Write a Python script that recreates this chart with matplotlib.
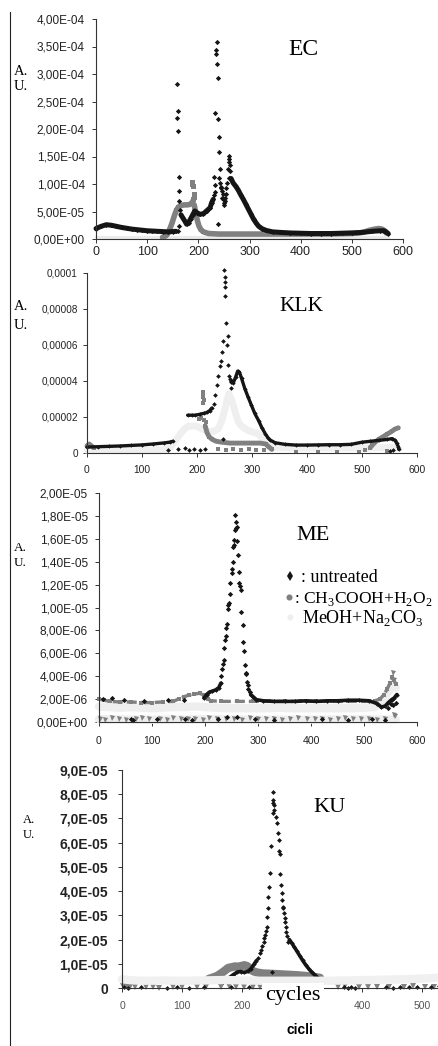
import matplotlib
matplotlib.use('Agg')
import matplotlib.pyplot as plt
from matplotlib.lines import Line2D

plt.rcParams['font.family'] = ['Liberation Sans', 'DejaVu Sans']
plt.rcParams['mathtext.fontset'] = 'custom'
plt.rcParams['mathtext.rm'] = 'Liberation Serif'

W, H = 438, 1046
UNIT = 1e-6          # all values below are read in units of 1E-06 A.U.
BLACK = '#151515'
GRAY = '#808080'
LIGHT = '#ebebeb'
SERIF = 'Liberation Serif'

x_ticks = [0, 100, 200, 300, 400, 500, 600]
x_labels = ['0', '100', '200', '300', '400', '500', '600']
# the KU axis: "300" is hidden under the "cycles" caption, "600" falls off the page
ku_xlabels = ['0', '100', '200', '', '400', '500', '']

# ---------------- EC ----------------
ec_yticks = [0, 5e-5, 1e-4, 1.5e-4, 2e-4, 2.5e-4, 3e-4, 3.5e-4, 4e-4]
ec_ylabels = ['0,00E+00', '5,00E-05', '1,00E-04', '1,50E-04', '2,00E-04',
              '2,50E-04', '3,00E-04', '3,50E-04', '4,00E-04']
ec_untreated_bands = [
    [(0, 19), (10, 23), (20, 26), (30, 25), (40, 23), (50, 21), (60, 19.5), (70, 18),
     (80, 17), (90, 16), (100, 15), (110, 14.5), (120, 14), (130, 13.5), (140, 13),
     (150, 13.5), (156, 14)],
    [(166, 44), (170, 38), (174, 32), (177, 27), (181, 30), (185, 37), (189, 44), (193, 51),
     (197, 48), (203, 45), (210, 46), (216, 51), (223, 57), (226, 66), (229, 72)],
    [(264, 110), (268, 102), (273, 96), (278, 89), (283, 80), (288, 72), (293, 63), (298, 54),
     (303, 45), (308, 36), (313, 29), (318, 23), (325, 18.5), (333, 15.5), (345, 13),
     (360, 12), (380, 11), (400, 10.5), (420, 10), (440, 10), (460, 10), (480, 10.5),
     (500, 11), (520, 12), (540, 14), (555, 15), (563, 15), (567, 13), (571, 10)],
]
ec_untreated_dots = [
    (159, 282), (160, 233), (159, 220), (160, 196), (162, 112), (162, 88), (163, 70),
    (164, 52), (161, 15), (163, 24),
    (236, 358), (235, 344), (234, 336), (236, 319), (238, 293), (233, 229), (238, 219),
    (240, 186), (240, 158), (242, 127), (231, 113), (232, 98), (232, 86), (230, 80), (238, 27),
    (241, 111), (242, 102), (244, 93), (246, 88), (248, 81), (249, 72), (251, 66), (252, 75),
    (254, 82), (255, 93), (257, 102), (259, 111), (261, 123), (262, 135), (260, 145),
    (259, 151), (260, 140), (258, 128), (245, 95), (247, 75), (250, 62), (253, 70),
]
ec_acid_bands = [
    [(130, 3), (137, 6), (141, 11), (145, 20), (149, 30), (153, 42), (157, 52), (161, 58),
     (166, 61), (172, 62), (178, 62), (184, 63), (188, 66), (190, 70)],
    [(192, 62), (194, 52), (196, 42), (198, 34), (201, 24), (205, 17), (210, 13), (220, 10),
     (240, 9), (270, 9), (300, 9), (350, 9), (400, 9), (450, 9), (500, 10), (515, 11),
     (525, 13), (535, 16), (545, 18), (553, 19), (559, 18), (564, 15), (567, 11)],
]
ec_acid_dots = [(188, 104), (188, 100), (189, 96), (191, 82), (191, 76), (190, 72)]
ec_meoh_bands = [
    [(0, 3), (60, 2.5), (120, 2.5), (180, 3), (240, 2.5), (300, 2.5), (360, 2.5), (420, 2.5),
     (480, 2.5), (540, 3), (570, 2.5)],
]

# ---------------- KLK ----------------
klk_yticks = [0, 2e-5, 4e-5, 6e-5, 8e-5, 1e-4]
klk_ylabels = ['0', '0,00002', '0,00004', '0,00006', '0,00008', '0,0001']
klk_untreated_bands = [
    [(0, 3.3), (20, 3.5), (40, 3.7), (60, 3.9), (80, 4.2), (100, 4.5), (120, 5), (140, 5.6),
     (150, 6), (156, 6.5)],
    [(183, 21), (190, 21), (197, 21), (205, 21.5), (212, 22), (218, 22.5), (223, 23.5), (227, 25)],
    [(262, 40), (266, 39), (270, 42), (274, 45.5), (277, 45), (281, 41.5), (287, 35.7),
     (293, 31), (299, 26.5), (305, 22), (312, 18), (318, 14), (324, 10.8), (329, 8.5),
     (333, 7.2), (342, 5.7), (360, 4.8), (380, 4.4), (400, 4.4), (420, 4.5), (440, 4.6),
     (460, 4.6), (480, 4.8), (500, 6), (515, 6.5), (530, 7), (545, 7.5), (555, 8), (560, 7),
     (563, 5.5), (566, 3.5), (567, 2)],
]
klk_untreated_dots = [
    (230, 27), (233, 32), (236, 37.5), (239, 43), (242, 48.5), (244, 51), (246, 56), (247, 62),
    (249, 101.5), (250, 98), (250, 95), (251, 92), (251, 87), (253, 72), (256, 65), (255, 60),
    (256, 49), (258, 43), (260, 41), (262, 39.5), (261, 36), (248, 7.5),
    (148, 1.5), (165, 2), (178, 2.5), (186, 1.5), (195, 2), (205, 1.5), (214, 2.2),
    (550, 1), (556, 1.5),
]
klk_acid_bands = [
    [(0, 4), (4, 5), (8, 4), (12, 3)],
    [(215, 15), (218, 11.5), (222, 9), (228, 7.5), (235, 6.5), (245, 6), (260, 5.5), (280, 5.5),
     (300, 5.5), (315, 5.5), (325, 5), (330, 3.5), (336, 2)],
    [(515, 3), (522, 5.5), (530, 7.5), (538, 9), (546, 10.5), (554, 12), (560, 13.3), (566, 14)],
]
klk_acid_dots = [
    (210, 34), (210, 32.5), (211, 31), (212, 29.5), (211, 28), (204, 19), (208, 19.5),
    (212, 18.5), (216, 17), (238, 2), (252, 1.5), (266, 2), (280, 1.5), (294, 2), (308, 1.5),
    (322, 1.8), (380, 0.5), (420, 0.5), (455, 0.8), (495, 0.5), (505, 1.5), (545, 1),
]
klk_meoh_bands = [
    [(0, 1.5), (50, 1.5), (100, 1.5), (140, 1.8), (150, 2.5), (155, 4.4), (160, 6.5), (166, 9),
     (172, 11.5), (178, 13.6), (184, 14.8), (190, 15), (196, 15), (202, 14.5), (208, 13.5),
     (215, 12.7), (221, 12), (227, 11.8), (233, 12.5), (239, 13.6), (245, 18), (251, 24.6),
     (255, 30), (258, 33), (262, 30), (266, 26.5), (270, 22), (275, 17.3), (281, 15),
     (287, 13.6), (293, 12.5), (299, 11.8), (305, 11.2), (311, 10.8), (318, 8.5), (324, 6.2),
     (330, 4.5), (336, 3.5), (350, 3), (400, 2.8), (450, 2.8), (500, 2.8), (540, 3), (560, 3),
     (566, 2.5)],
]

# ---------------- ME ----------------
me_yticks = [0, 2e-6, 4e-6, 6e-6, 8e-6, 1e-5, 1.2e-5, 1.4e-5, 1.6e-5, 1.8e-5, 2e-5]
me_ylabels = ['0,00E+00', '2,00E-06', '4,00E-06', '6,00E-06', '8,00E-06', '1,00E-05',
              '1,20E-05', '1,40E-05', '1,60E-05', '1,80E-05', '2,00E-05']
me_untreated_bands = [
    [(198, 2.1), (203, 2.4), (208, 2.6), (214, 2.7), (220, 2.8), (226, 3.0), (230, 3.4)],
    [(286, 2.4), (291, 2.2), (297, 1.95), (310, 1.85), (330, 1.8), (350, 1.8), (370, 1.8),
     (390, 1.85), (410, 1.8), (430, 1.85), (450, 1.85), (470, 1.9), (490, 1.9), (510, 1.85),
     (525, 1.6), (533, 1.3), (540, 1.4), (546, 1.7), (552, 1.95), (557, 2.1), (562, 2.4)],
]
me_untreated_dots = [
    (7, 2.0), (25, 2.1), (48, 1.9), (85, 1.8), (130, 1.9), (160, 1.95),
    (231, 4.0), (233, 4.6), (234, 5.1), (235, 5.4), (236, 6.5), (238, 7.2), (239, 7.5),
    (240, 8.2), (241, 8.6), (243, 9.9), (244, 10.2), (245, 10.4), (247, 11.2), (248, 12.1),
    (250, 13.0), (251, 13.4), (252, 14.0), (253, 15.3), (254, 15.5), (255, 15.9), (256, 16.8),
    (257, 18.1), (258, 16.9), (259, 17.5), (260, 17.0), (261, 15.8), (262, 14.6), (264, 13.1),
    (265, 12.1), (266, 11.9), (267, 11.5), (268, 9.6), (271, 8.5), (272, 7.0), (274, 6.2),
    (275, 5.0), (277, 4.3), (278, 4.2), (279, 3.5), (281, 3.2), (282, 2.9), (284, 2.6),
    (545, 1.2), (550, 1.6), (555, 1.5), (560, 1.7),
    (60, 0.3), (64, 0.2), (110, 0.3), (162, 0.3), (175, 0.2), (224, 0.3), (241, 0.4),
    (260, 0.4), (294, 0.3), (330, 0.2), (420, 0.3), (470, 0.2), (515, 0.3), (540, 0.2),
]
me_acid_bands = [
    [(0, 2.0), (10, 1.9), (20, 1.8), (40, 1.75), (60, 1.75), (80, 1.7), (100, 1.7), (120, 1.75),
     (140, 1.8), (150, 2.0), (160, 2.2), (170, 2.35), (180, 2.45), (190, 2.5), (198, 2.35),
     (205, 2.0), (212, 1.85), (230, 1.8), (260, 1.8), (290, 1.8), (320, 1.8), (350, 1.8),
     (380, 1.8), (410, 1.8), (440, 1.8), (470, 1.8), (500, 1.8), (520, 1.85), (530, 2.0),
     (538, 2.4), (544, 2.9), (549, 3.4), (553, 3.9), (556, 3.7), (560, 3.3)],
]
me_acid_dots = [
    (555, 4.3), (557, 3.7), (556, 0.6), (559, 0.55),
    (2, 0.3), (12, 0.2), (25, 0.35), (38, 0.3), (50, 0.2), (70, 0.3), (82, 0.35), (95, 0.25),
    (115, 0.3), (128, 0.2), (140, 0.35), (155, 0.3), (168, 0.25), (182, 0.3), (196, 0.2),
    (208, 0.35), (222, 0.3), (240, 0.25), (255, 0.3), (270, 0.2), (285, 0.35), (300, 0.3),
    (315, 0.25), (330, 0.3), (345, 0.2), (360, 0.3), (375, 0.35), (392, 0.3), (408, 0.25),
    (420, 0.3), (435, 0.2), (450, 0.3), (465, 0.35), (480, 0.3), (495, 0.25), (510, 0.3),
    (525, 0.2), (540, 0.3),
]
me_meoh_bands = [
    [(0, 1.35), (20, 1.3), (40, 1.25), (60, 1.3), (80, 1.25), (100, 1.2), (120, 1.25), (140, 1.3),
     (160, 1.3), (180, 1.35), (200, 1.3), (220, 1.25), (240, 1.2), (260, 1.2), (280, 1.2),
     (300, 1.2), (320, 1.2), (340, 1.25), (360, 1.2), (380, 1.2), (400, 1.2), (420, 1.2),
     (440, 1.2), (460, 1.2), (480, 1.2), (500, 1.25), (520, 1.3), (530, 1.6), (538, 2.1),
     (545, 2.6), (550, 3.0), (555, 3.3), (560, 3.0)],
    [(0, 0.25), (100, 0.2), (200, 0.25), (300, 0.2), (400, 0.2), (500, 0.25), (560, 0.2)],
]

# ---------------- KU ----------------
ku_yticks = [0, 1e-5, 2e-5, 3e-5, 4e-5, 5e-5, 6e-5, 7e-5, 8e-5, 9e-5]
ku_ylabels = ['0', '1,0E-05', '2,0E-05', '3,0E-05', '4,0E-05', '5,0E-05', '6,0E-05',
              '7,0E-05', '8,0E-05', '9,0E-05']
ku_untreated_bands = [
    [(168, 2.5), (174, 3.5), (180, 4.5), (186, 5.6), (192, 6.6), (198, 6.8), (204, 6.4),
     (210, 6.9), (215, 8), (220, 9.8), (224, 11.3)],
    [(279, 20), (283, 18.5), (287, 17), (291, 15.4), (296, 13.4), (301, 11.4), (306, 9.6),
     (311, 8), (316, 6.6), (321, 5.4), (326, 4.3), (330, 3.6)],
]
ku_untreated_dots = [
    (227, 12.3), (230, 14.5), (232, 15.7), (234, 17.5), (236, 19.1), (237, 20.5), (239, 21.9),
    (240, 23.5), (241, 25.3), (242, 29.5), (243, 32.9), (244, 37.7), (245, 41.6), (247, 47.4),
    (249, 58.7), (251, 81.1), (252, 77.7), (252, 76.5), (253, 75.6), (252, 72.2), (254, 73.5),
    (256, 70.8), (258, 68), (260, 63.9), (261, 60.9), (262, 56.7), (263, 55.4), (264, 47),
    (265, 42.6), (266, 39.1), (267, 36.4), (268, 33.5), (269, 32.9), (270, 30.9), (271, 28.9),
    (272, 27.4), (273, 25.3), (274, 23.3), (275, 21.5), (277, 19.1), (250, 6.7),
    (3, 0.6), (10, 0.2), (32, 0.3), (75, 0.2), (92, 0.4), (112, 0.2), (136, 0.5), (182, 0.3),
    (212, 0.4), (370, 0.3), (376, 0.1), (382, 0.4), (388, 0.2), (440, 0.3), (452, 0.1),
    (464, 0.4), (478, 0.6), (492, 0.3), (515, 0.5), (528, 1.0),
]
ku_acid_bands = [
    [(145, 3.8), (150, 4.2), (155, 4.6), (160, 5.2), (166, 6.2), (172, 7.3), (177, 8.3),
     (183, 8.6), (188, 8.9), (194, 8.8), (199, 9.1), (204, 9.4), (209, 9.0), (213, 8.0),
     (218, 7.0), (225, 6.4), (235, 6.0), (245, 5.9), (260, 5.7), (275, 5.5), (290, 5.3),
     (305, 5.0), (320, 4.6), (330, 4.2)],
]
ku_acid_dots = [
    (2, 0.8), (8, 1.0), (14, 0.5), (22, 0.3), (40, 0.4), (52, 0.6), (62, 0.2), (85, 0.5),
    (100, 0.3), (125, 0.6), (140, 0.4), (165, 0.3), (178, 0.8), (190, 0.5), (204, 0.6),
    (218, 0.3), (230, 0.5), (245, 0.8), (360, 0.5), (372, 0.8), (395, 0.4), (410, 0.6),
    (425, 0.3), (445, 0.6), (470, 0.5), (485, 0.8), (505, 0.6), (520, 0.4), (535, 0.9),
]
ku_meoh_bands = [
    [(0, 3.6), (15, 3.2), (30, 3), (50, 3), (70, 3.1), (90, 3), (110, 3), (130, 3.1), (150, 3.2),
     (170, 3.3), (190, 3.2), (210, 3.1), (230, 3), (250, 3), (270, 3), (290, 3), (310, 3),
     (330, 3), (350, 3), (370, 3.1), (390, 3.2), (410, 3.3), (430, 3.4), (450, 3.5), (470, 3.6),
     (490, 3.8), (510, 4), (530, 4.3), (545, 4.5)],
]


def fx(px):
    return px / W


def fy(py):
    return 1 - py / H


def make_axes(left, right, top, bottom):
    return fig.add_axes([fx(left), fy(bottom), (right - left) / W, (bottom - top) / H])


def draw_bands(ax, bands, color, lw, marker, ms, **kw):
    for seg in bands:
        c = [p[0] for p in seg]
        v = [p[1] * UNIT for p in seg]
        ax.plot(c, v, color=color, lw=lw, marker=marker, ms=ms, mew=0,
                solid_capstyle='round', solid_joinstyle='round', clip_on=False, **kw)


def draw_dots(ax, dots, color, marker, ms):
    c = [p[0] for p in dots]
    v = [p[1] * UNIT for p in dots]
    ax.plot(c, v, ls='none', color=color, marker=marker, ms=ms, mew=0, clip_on=False)


def style_axes(ax, ymax, yticks, ylabels, ysize, xsize, ypad, xpad,
               yweight='normal', xcolor='#222222', xlabels=x_labels):
    ax.set_xlim(0, 600)
    ax.set_ylim(0, ymax)
    for s in ['top', 'right']:
        ax.spines[s].set_visible(False)
    for s in ['left', 'bottom']:
        ax.spines[s].set_color('#333333')
        ax.spines[s].set_linewidth(0.8)
    ax.set_yticks(yticks)
    ax.set_yticklabels(ylabels, fontsize=ysize, fontweight=yweight, color='#222222')
    ax.set_xticks(x_ticks)
    ax.set_xticklabels(xlabels, fontsize=xsize, color=xcolor)
    ax.tick_params(axis='y', direction='out', length=3, width=0.7, pad=ypad, color='#333333')
    ax.tick_params(axis='x', direction='out', length=3, width=0.7, pad=xpad, color='#333333')
    ax.patch.set_alpha(0)


def au_label(x, y1, y2, size):
    fig.text(fx(x), fy(y1), 'A.', fontsize=size, family=SERIF, va='baseline')
    fig.text(fx(x), fy(y2), 'U.', fontsize=size, family=SERIF, va='baseline')


fig = plt.figure(figsize=(W / 100, H / 100), dpi=100)

# EC
ax1 = make_axes(96, 403, 19, 239)
draw_bands(ax1, ec_meoh_bands, LIGHT, 2.2, 'o', 2.5)
draw_bands(ax1, ec_acid_bands, GRAY, 4.0, 's', 3)
draw_dots(ax1, ec_acid_dots, GRAY, 's', 3.6)
draw_bands(ax1, ec_untreated_bands, BLACK, 3.6, 'D', 2.6)
draw_dots(ax1, ec_untreated_dots, BLACK, 'D', 2.7)
style_axes(ax1, 4e-4, ec_yticks, ec_ylabels, 8.5, 9, 5, 2.2)
fig.text(fx(303), fy(55), 'EC', fontsize=17, family=SERIF, ha='center', va='baseline')
au_label(14, 75, 90, 10.5)

# KLK
ax2 = make_axes(87, 417, 273, 453)
draw_bands(ax2, klk_meoh_bands, '#efefef', 5.0, 'o', 3)
draw_bands(ax2, klk_acid_bands, GRAY, 3.5, 's', 3)
draw_dots(ax2, klk_acid_dots, GRAY, 's', 3.4)
draw_bands(ax2, klk_untreated_bands, BLACK, 2.4, 'D', 2.2)
draw_dots(ax2, klk_untreated_dots, BLACK, 'D', 2.4)
style_axes(ax2, 1e-4, klk_yticks, klk_ylabels, 7.2, 7.4, 3.6, 5.6)
fig.text(fx(302), fy(311), 'KLK', fontsize=15.5, family=SERIF, ha='center', va='baseline')
au_label(14, 310, 329, 10.5)

# ME
ax3 = make_axes(99, 417, 493, 722)
draw_bands(ax3, me_meoh_bands, '#eeeeee', 6.0, 'o', 3)
draw_bands(ax3, me_acid_bands, GRAY, 2.4, 's', 2.2, ls=(0, (3, 1.2)))
draw_dots(ax3, me_acid_dots, GRAY, 'v', 3.6)
draw_bands(ax3, me_untreated_bands, BLACK, 2.6, 'D', 2.4)
draw_dots(ax3, me_untreated_dots, BLACK, 'D', 2.7)
style_axes(ax3, 2e-5, me_yticks, me_ylabels, 8.6, 7.6, 5, 7.2)
fig.text(fx(313), fy(540), 'ME', fontsize=16, family=SERIF, ha='center', va='baseline')
au_label(14, 551, 566, 9.5)

# legend of the ME panel
fig.add_artist(Line2D([fx(290)], [fy(576)], marker='d', ms=5.6, color=BLACK, mew=0,
                      transform=fig.transFigure))
fig.add_artist(Line2D([fx(289)], [fy(597)], marker='o', ms=4.4, color=GRAY, mew=0,
                      transform=fig.transFigure))
fig.add_artist(Line2D([fx(290)], [fy(617)], marker='o', ms=4.4, color='#eeeeee', mew=0,
                      transform=fig.transFigure))
fig.text(fx(301), fy(582), ': untreated', fontsize=13, family=SERIF, va='baseline')
fig.text(fx(294), fy(603), r': CH$_\mathrm{3}$COOH+H$_\mathrm{2}$O$_\mathrm{2}$',
         fontsize=12.5, family=SERIF, va='baseline')
fig.text(fx(302), fy(623), r'MeOH+Na$_\mathrm{2}$CO$_\mathrm{3}$',
         fontsize=13, family=SERIF, va='baseline')

# KU (axis runs past the right edge of the picture)
ax4 = make_axes(122, 482, 770, 988)
draw_bands(ax4, ku_acid_bands, GRAY, 6.0, 's', 3)
draw_dots(ax4, ku_acid_dots, GRAY, 'v', 3.8)
draw_bands(ax4, ku_untreated_bands, BLACK, 2.6, 'D', 2.3)
draw_dots(ax4, ku_untreated_dots, BLACK, 'D', 2.5)
draw_bands(ax4, ku_meoh_bands, '#f0f0f0', 6.0, 'o', 3)
style_axes(ax4, 9e-5, ku_yticks, ku_ylabels, 10, 7.5, 7, 6.5,
           yweight='bold', xcolor='#555555', xlabels=ku_xlabels)
fig.text(fx(329), fy(812), 'KU', fontsize=16, family=SERIF, ha='center', va='baseline')
au_label(23, 823, 838, 9)
fig.text(fx(293), fy(1000), 'cycles', fontsize=16, family=SERIF, ha='center', va='baseline',
         bbox=dict(boxstyle='square,pad=0.15', facecolor='white', edgecolor='none'))
fig.text(fx(300), fy(1034), 'cicli', fontsize=10, fontweight='bold', ha='center', va='baseline')

# vertical rule on the left of the page
fig.add_artist(Line2D([fx(10), fx(10)], [fy(12), fy(1046)], color='#222222', lw=0.8,
                      transform=fig.transFigure))

fig.savefig('out.png', dpi=100)
